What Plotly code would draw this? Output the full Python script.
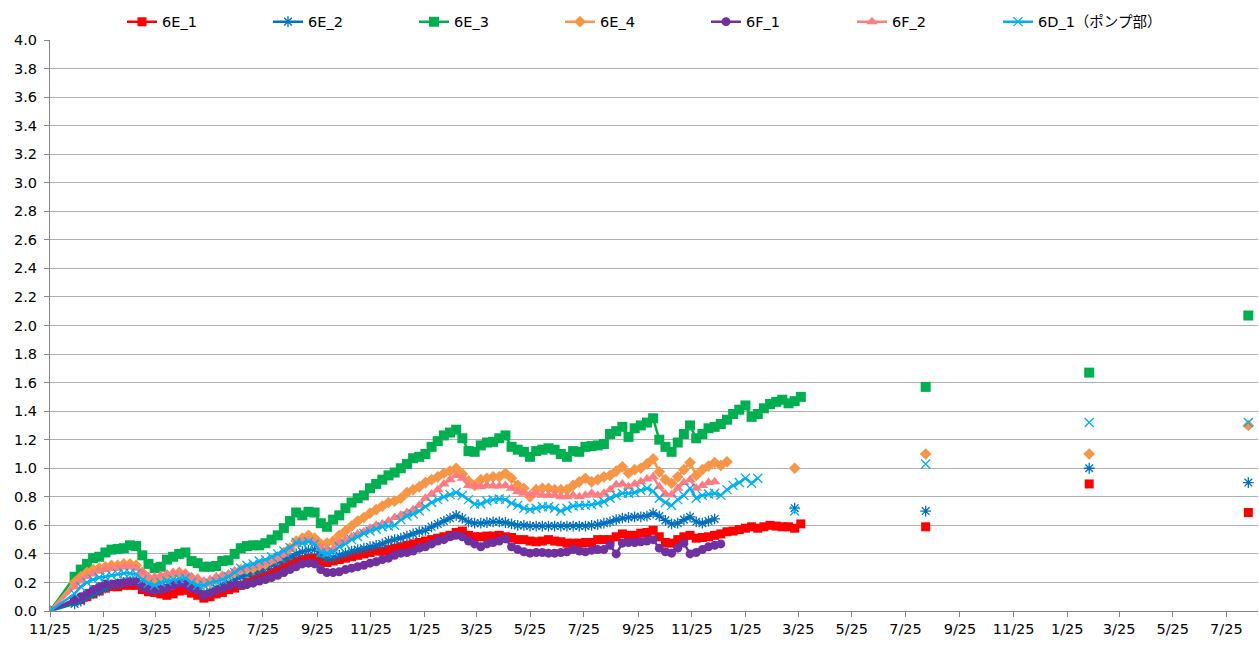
import pandas as pd
import plotly.graph_objects as go

# ---------------- data ----------------
start_date = "2013-11-25"          # first survey (value 0 for all points)
first_week = 4                     # weekly readings start 4 weeks later

E1 = [0.07,0.08,0.10,0.12,0.14,0.16,0.17,0.17,0.18,0.18,
      0.18,0.15,0.135,0.13,0.12,0.11,0.12,0.14,0.145,0.125,
      0.11,0.09,0.10,0.12,0.13,0.15,0.16,0.18,0.20,0.22,
      0.24,0.25,0.27,0.29,0.31,0.33,0.35,0.36,0.37,0.37,
      0.35,0.34,0.35,0.36,0.37,0.38,0.39,0.40,0.41,0.42,
      0.42,0.43,0.44,0.45,0.46,0.47,0.48,0.49,0.50,0.51,
      0.52,0.53,0.55,0.56,0.53,0.52,0.52,0.525,0.525,0.53,
      0.52,0.515,0.50,0.50,0.49,0.485,0.49,0.50,0.49,0.485,
      0.475,0.475,0.475,0.48,0.48,0.50,0.50,0.50,0.52,0.54,
      0.53,0.53,0.545,0.55,0.565,0.52,0.48,0.475,0.50,0.52,
      0.53,0.51,0.515,0.52,0.53,0.54,0.555,0.56,0.57,0.58,
      0.59,0.58,0.59,0.60,0.595,0.59,0.59,0.58,0.61]

E2 = [0.05,0.07,0.10,0.12,0.14,0.16,0.18,0.19,0.20,0.21,
      0.21,0.18,0.16,0.15,0.16,0.17,0.19,0.20,0.20,0.17,
      0.16,0.13,0.14,0.16,0.18,0.20,0.22,0.24,0.255,0.27,
      0.285,0.30,0.32,0.34,0.36,0.38,0.40,0.415,0.425,0.43,
      0.40,0.37,0.375,0.39,0.405,0.42,0.43,0.44,0.45,0.46,
      0.47,0.49,0.50,0.51,0.525,0.54,0.555,0.565,0.59,0.61,
      0.63,0.65,0.67,0.65,0.625,0.615,0.615,0.62,0.625,0.625,
      0.62,0.61,0.60,0.60,0.595,0.595,0.595,0.595,0.595,0.595,
      0.595,0.595,0.595,0.595,0.60,0.605,0.615,0.625,0.64,0.65,
      0.655,0.66,0.66,0.665,0.685,0.665,0.635,0.61,0.615,0.64,
      0.66,0.625,0.615,0.63,0.645]

E3 = [0.24,0.29,0.33,0.37,0.38,0.41,0.43,0.435,0.44,0.46,
      0.455,0.39,0.33,0.30,0.31,0.36,0.38,0.40,0.41,0.35,
      0.335,0.31,0.31,0.315,0.35,0.355,0.40,0.44,0.455,0.46,
      0.46,0.475,0.50,0.53,0.58,0.63,0.69,0.67,0.695,0.69,
      0.615,0.59,0.64,0.67,0.72,0.76,0.79,0.81,0.86,0.89,
      0.92,0.95,0.97,1.00,1.03,1.07,1.08,1.10,1.15,1.19,
      1.23,1.25,1.27,1.21,1.12,1.115,1.16,1.18,1.185,1.21,
      1.23,1.15,1.13,1.115,1.08,1.12,1.13,1.14,1.13,1.10,
      1.08,1.12,1.115,1.15,1.155,1.16,1.17,1.24,1.26,1.29,
      1.22,1.28,1.30,1.32,1.35,1.20,1.15,1.115,1.18,1.24,
      1.30,1.21,1.24,1.28,1.29,1.31,1.34,1.38,1.41,1.44,
      1.36,1.38,1.42,1.45,1.465,1.48,1.455,1.47,1.50]

E4 = [0.20,0.24,0.27,0.29,0.30,0.31,0.32,0.32,0.33,0.33,
      0.32,0.27,0.23,0.22,0.23,0.25,0.26,0.27,0.26,0.23,
      0.22,0.19,0.20,0.22,0.24,0.25,0.27,0.29,0.295,0.30,
      0.32,0.33,0.36,0.38,0.41,0.44,0.49,0.51,0.53,0.51,
      0.47,0.475,0.49,0.53,0.56,0.595,0.63,0.655,0.685,0.71,
      0.735,0.76,0.77,0.79,0.83,0.85,0.87,0.90,0.92,0.94,
      0.965,0.98,1.00,0.96,0.91,0.88,0.92,0.93,0.94,0.94,
      0.965,0.93,0.88,0.86,0.80,0.85,0.86,0.86,0.85,0.85,
      0.85,0.88,0.905,0.93,0.905,0.92,0.94,0.95,0.98,1.01,
      0.965,0.99,1.00,1.03,1.065,0.975,0.92,0.895,0.94,0.99,
      1.04,0.95,0.99,1.015,1.04,1.02,1.045]

F1 = [0.08,0.10,0.125,0.15,0.17,0.19,0.19,0.195,0.20,0.205,
      0.205,0.17,0.15,0.145,0.15,0.16,0.18,0.195,0.19,0.16,
      0.145,0.11,0.125,0.145,0.16,0.175,0.19,0.18,0.185,0.195,
      0.21,0.22,0.235,0.25,0.27,0.29,0.31,0.33,0.335,0.33,
      0.29,0.27,0.27,0.275,0.29,0.30,0.31,0.32,0.335,0.345,
      0.36,0.37,0.39,0.405,0.41,0.42,0.44,0.45,0.47,0.49,
      0.50,0.52,0.53,0.52,0.49,0.47,0.45,0.47,0.48,0.49,
      0.505,0.45,0.43,0.415,0.405,0.41,0.41,0.405,0.405,0.41,
      0.415,0.43,0.42,0.415,0.425,0.43,0.43,0.46,0.40,0.475,
      0.48,0.48,0.485,0.49,0.50,0.44,0.415,0.405,0.44,0.475,
      0.40,0.41,0.43,0.45,0.46,0.47]

F2 = [0.17,0.21,0.24,0.26,0.28,0.29,0.30,0.30,0.31,0.31,
      0.30,0.27,0.24,0.24,0.25,0.26,0.27,0.27,0.26,0.24,
      0.23,0.21,0.22,0.24,0.25,0.26,0.28,0.28,0.30,0.31,
      0.32,0.335,0.35,0.37,0.40,0.43,0.47,0.48,0.495,0.48,
      0.44,0.43,0.435,0.48,0.50,0.52,0.54,0.555,0.58,0.60,
      0.61,0.63,0.655,0.67,0.69,0.71,0.74,0.79,0.82,0.85,
      0.89,0.92,0.95,0.93,0.88,0.875,0.87,0.88,0.875,0.875,
      0.88,0.86,0.835,0.825,0.815,0.825,0.81,0.81,0.81,0.80,
      0.80,0.81,0.80,0.81,0.825,0.81,0.825,0.85,0.885,0.89,
      0.87,0.89,0.905,0.925,0.94,0.87,0.82,0.815,0.86,0.90,
      0.92,0.86,0.88,0.90,0.905]

D1 = [0.12,0.17,0.20,0.22,0.235,0.24,0.25,0.26,0.265,0.265,
      0.26,0.22,0.195,0.18,0.20,0.21,0.22,0.225,0.23,0.20,
      0.18,0.18,0.195,0.205,0.22,0.24,0.27,0.30,0.32,0.33,
      0.35,0.36,0.38,0.40,0.42,0.445,0.48,0.475,0.485,0.47,
      0.41,0.405,0.415,0.45,0.47,0.50,0.52,0.545,0.56,0.575,
      0.59,0.595,0.60,0.64,0.665,0.68,0.70,0.73,0.76,0.78,
      0.80,0.815,0.83,0.81,0.78,0.75,0.75,0.77,0.78,0.785,
      0.78,0.755,0.74,0.72,0.71,0.72,0.73,0.73,0.72,0.70,
      0.72,0.735,0.74,0.74,0.745,0.755,0.765,0.79,0.81,0.825,
      0.825,0.83,0.845,0.86,0.84,0.79,0.76,0.74,0.78,0.81,
      0.86,0.79,0.81,0.82,0.825,0.81,0.85,0.88,0.90,0.93,
      0.895,0.93]

# later, isolated surveys
sparse_dates = ["2016-03-21", "2016-08-17", "2017-02-19", "2017-08-19"]
E1_sparse = [None, 0.59, 0.89, 0.69]
E2_sparse = [0.72, 0.70, 1.00, 0.90]
E3_sparse = [None, 1.57, 1.67, 2.07]
E4_sparse = [1.00, 1.10, 1.10, 1.30]
F1_sparse = [None, None, None, None]
F2_sparse = [None, None, None, None]
D1_sparse = [0.70, 1.03, 1.32, 1.32]

names = ["6E_1", "6E_2", "6E_3", "6E_4", "6F_1", "6F_2", "6D_1（ポンプ部）"]

tick_dates = pd.date_range("2013-11-01", "2017-07-01", freq="2MS") + pd.Timedelta(days=24)
tick_text = [f"{d.month}/25" for d in tick_dates]
x_end = "2017-08-30"

# ---------------- styling ----------------
styles = [
    dict(color="#FF0000", symbol="square", size=9, lw=0),
    dict(color="#0070C0", symbol="asterisk-open", size=9, lw=1.3),
    dict(color="#00B050", symbol="square", size=10, lw=0),
    dict(color="#F79646", symbol="diamond", size=9, lw=0),
    dict(color="#7030A0", symbol="circle", size=9, lw=0),
    dict(color="#FF7C80", symbol="triangle-up", size=10, lw=0),
    dict(color="#00B0F0", symbol="x-thin-open", size=9, lw=1.3),
]

start = pd.Timestamp(start_date)

def build(dense, sparse):
    xs = [start] + [start + pd.Timedelta(weeks=first_week + i) for i in range(len(dense))]
    ys = [0.0] + list(dense)
    for d, v in zip(sparse_dates, sparse):
        if v is None:
            continue
        xs += [pd.Timestamp(d), pd.Timestamp(d)]
        ys += [None, v]
    return xs, ys

series = [(E1, E1_sparse), (E2, E2_sparse), (E3, E3_sparse), (E4, E4_sparse),
          (F1, F1_sparse), (F2, F2_sparse), (D1, D1_sparse)]

fig = go.Figure()
for i, (name, (dense, sparse), st) in enumerate(zip(names, series, styles)):
    xs, ys = build(dense, sparse)
    fig.add_trace(go.Scatter(
        x=xs, y=ys, name=name, mode="lines+markers", connectgaps=False,
        line=dict(color=st["color"], width=2.5),
        marker=dict(symbol=st["symbol"], size=st["size"], color=st["color"],
                    line=dict(color=st["color"], width=st["lw"])),
        legendwidth=(140 if i == len(names) - 1 else 101),
    ))

font_family = "DejaVu Sans, Noto Sans CJK JP, sans-serif"
fig.update_layout(
    width=1259, height=648,
    margin=dict(l=50, r=1, t=40, b=37, autoexpand=False),
    paper_bgcolor="white", plot_bgcolor="white",
    font=dict(family=font_family, size=14.5, color="#000000"),
    showlegend=True,
    legend=dict(orientation="h", x=0.0596, xanchor="left", y=1.032, yanchor="middle",
                entrywidthmode="pixels",
                font=dict(family=font_family, size=14.5), bgcolor="rgba(0,0,0,0)"),
    xaxis=dict(type="date", range=[start_date, x_end], tickmode="array",
               tickvals=tick_dates, ticktext=tick_text, showgrid=False,
               showline=True, linecolor="#868686", linewidth=1, automargin=False,
               ticks="outside", ticklen=5, tickcolor="#868686", zeroline=False),
    yaxis=dict(range=[0, 4.0], dtick=0.2, tickformat=".1f", showgrid=True,
               gridcolor="#B0B0B0", gridwidth=1, showline=True, automargin=False,
               linecolor="#868686", linewidth=1, ticks="outside", ticklen=5,
               tickcolor="#868686", zeroline=False, ticklabelstandoff=4),
)

fig.write_html("out.html", config={"displayModeBar": False},
               post_script="document.body.style.margin='0';")
